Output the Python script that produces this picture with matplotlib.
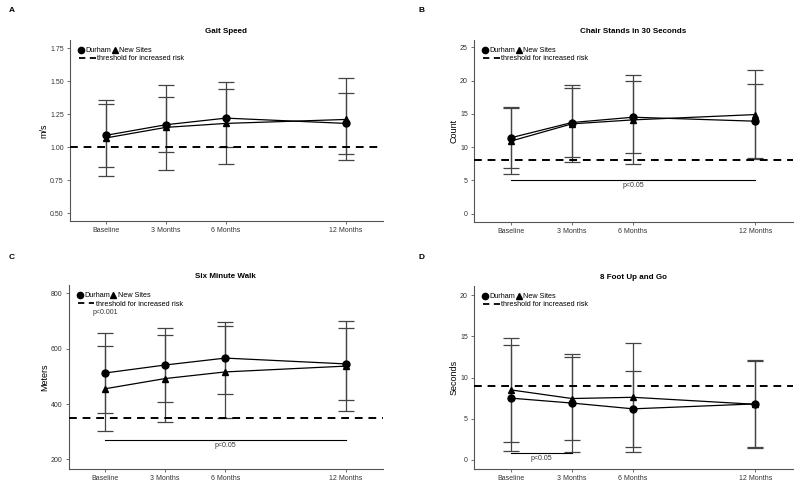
import matplotlib
matplotlib.use("Agg")
import matplotlib.pyplot as plt
from matplotlib.lines import Line2D

plt.rcParams['font.family'] = ['Liberation Sans', 'DejaVu Sans']

# ─── data ───────────────────────────────────────────────────────────────────
months = [0, 3, 6, 12]
tick_labels = ["Baseline", "3 Months", "6 Months", "12 Months"]

gait_durham = [1.09, 1.17, 1.22, 1.18]
gait_durham_sd = [0.24, 0.21, 0.22, 0.23]
gait_new = [1.07, 1.15, 1.18, 1.21]
gait_new_sd = [0.29, 0.32, 0.31, 0.31]

chair_durham = [11.4, 13.7, 14.5, 13.9]
chair_durham_sd = [4.6, 5.2, 5.4, 5.6]
chair_new = [10.9, 13.5, 14.1, 14.9]
chair_new_sd = [5.0, 5.8, 6.7, 6.7]

walk_durham = [512, 541, 566, 545]
walk_durham_sd = [144, 134, 130, 131]
walk_new = [455, 492, 516, 537]
walk_new_sd = [154, 158, 166, 164]

tug_durham = [7.5, 6.9, 6.2, 6.8]
tug_durham_sd = [6.4, 5.9, 4.65, 5.2]
tug_new = [8.5, 7.45, 7.6, 6.75]
tug_new_sd = [6.3, 5.05, 6.6, 5.35]

panels = [
    # letter, title, ylabel, durham, sd, new, sd, threshold, ylim, yticks
    ("A", "Gait Speed", "m/s", gait_durham, gait_durham_sd, gait_new, gait_new_sd,
     1.0, (0.44, 1.81), [0.50, 0.75, 1.00, 1.25, 1.50, 1.75]),
    ("B", "Chair Stands in 30 Seconds", "Count", chair_durham, chair_durham_sd, chair_new, chair_new_sd,
     8, (-1.3, 26.1), [0, 5, 10, 15, 20, 25]),
    ("C", "Six Minute Walk", "Meters", walk_durham, walk_durham_sd, walk_new, walk_new_sd,
     350, (165, 830), [200, 400, 600, 800]),
    ("D", "8 Foot Up and Go", "Seconds", tug_durham, tug_durham_sd, tug_new, tug_new_sd,
     9, (-1.1, 21.1), [0, 5, 10, 15, 20]),
]

# significance brackets: panel -> list of (x0, x1, y, label, label_y)
brackets = {
    "B": [(0, 12, 5, "p<0.05", 4.2)],
    "C": [(0, 12, 270, "p<0.05", 250)],
    "D": [(0, 3, 0.8, "p<0.05", 0.15)],
}
free_text = {"C": [(0, 732, "p<0.001")]}

# axes rects (figure fractions)
rects = {
    "A": [0.0875, 0.543, 0.391, 0.374],
    "B": [0.5925, 0.541, 0.399, 0.376],
    "C": [0.086, 0.031, 0.3925, 0.380],
    "D": [0.5925, 0.031, 0.399, 0.378],
}
letter_pos = {"A": (0.011, 0.978), "B": (0.523, 0.978), "C": (0.011, 0.468), "D": (0.523, 0.468)}

fig = plt.figure(figsize=(8, 4.84), dpi=100)

ink = "#333333"
for letter, title, ylabel, dur, dur_sd, new, new_sd, thr, ylim, yticks in panels:
    ax = fig.add_axes(rects[letter])

    for vals, sd, mk in [(dur, dur_sd, "o"), (new, new_sd, "^")]:
        ax.errorbar(months, vals, yerr=sd, fmt="none", ecolor="#444444",
                    elinewidth=0.9, capsize=6, capthick=0.9, zorder=2)
        ax.plot(months, vals, color="black", lw=0.9, marker=mk,
                markersize=5, zorder=3)

    ax.axhline(thr, color="black", lw=1.4, ls=(0, (4, 3)), zorder=4)

    for x0, x1, y, lab, ly in brackets.get(letter, []):
        ax.plot([x0, x1], [y, y], color="black", lw=0.8)
        ax.text((x0 + x1) / 2, ly, lab, ha="center", va="center",
                fontsize=5, color=ink)
    for x, y, lab in free_text.get(letter, []):
        ax.text(x, y, lab, ha="center", va="center", fontsize=5, color=ink)

    ax.set_xlim(-1.8, 13.85)
    ax.set_ylim(*ylim)
    ax.set_xticks(months)
    ax.set_xticklabels(tick_labels)
    ax.set_yticks(yticks)
    if letter == "A":
        ax.set_yticklabels([f"{t:.2f}" for t in yticks])
    ax.tick_params(labelsize=5, length=2.5, width=0.6, colors="#555555",
                   labelcolor=ink, pad=2)
    for s in ["top", "right"]:
        ax.spines[s].set_visible(False)
    for s in ["left", "bottom"]:
        ax.spines[s].set_color("#555555")
        ax.spines[s].set_linewidth(0.8)
    ax.set_ylabel(ylabel, fontsize=6.5, labelpad=1)
    ax.set_title(title, fontsize=5.8, fontweight="bold", pad=5)

    # legend: markers on one row, threshold line below
    h1 = [Line2D([], [], marker="o", color="black", ls="None", markersize=4.5, label="Durham"),
          Line2D([], [], marker="^", color="black", ls="None", markersize=4.5, label="New Sites")]
    leg1 = ax.legend(handles=h1, ncol=2, loc="upper left", bbox_to_anchor=(0.015, 0.985),
                     frameon=False, fontsize=5.2, handlelength=0.6, handletextpad=0.3,
                     columnspacing=0.15, borderaxespad=0.2)
    ax.add_artist(leg1)
    h2 = [Line2D([], [], color="black", lw=1.3, ls=(0, (3.5, 2.5)),
                 label="threshold for increased risk")]
    ax.legend(handles=h2, loc="upper left", bbox_to_anchor=(0.015, 0.94),
              frameon=False, fontsize=5.2, handlelength=2.3, handletextpad=0.2,
              borderaxespad=0.2)

    fig.text(*letter_pos[letter], letter, fontsize=6, fontweight="bold",
             ha="left", va="center")

fig.savefig("out.png", dpi=100)
